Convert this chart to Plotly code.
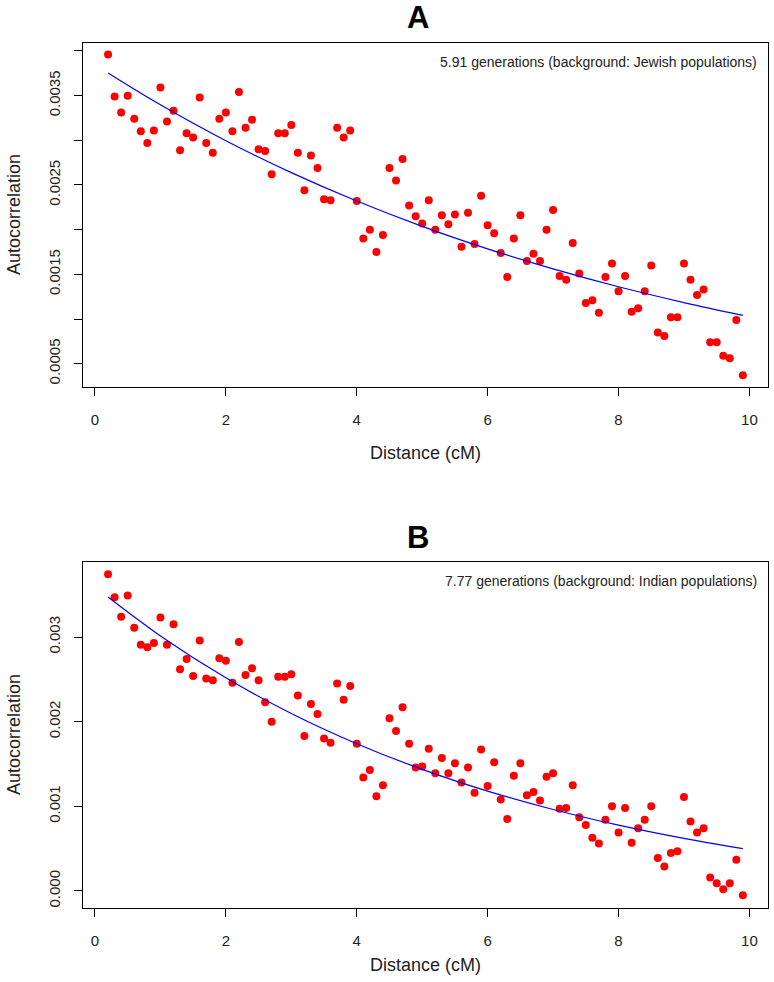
import plotly.graph_objects as go

# distance bins (cM)
distance = [0.2, 0.3, 0.4, 0.5, 0.6, 0.7, 0.8, 0.9, 1.0, 1.1, 1.2, 1.3, 1.4, 1.5, 1.6, 1.7, 1.8, 1.9,
            2.0, 2.1, 2.2, 2.3, 2.4, 2.5, 2.6, 2.7, 2.8, 2.9, 3.0, 3.1, 3.2, 3.3, 3.4, 3.5, 3.6, 3.7,
            3.8, 3.9, 4.0, 4.1, 4.2, 4.3, 4.4, 4.5, 4.6, 4.7, 4.8, 4.9, 5.0, 5.1, 5.2, 5.3, 5.4, 5.5,
            5.6, 5.7, 5.8, 5.9, 6.0, 6.1, 6.2, 6.3, 6.4, 6.5, 6.6, 6.7, 6.8, 6.9, 7.0, 7.1, 7.2, 7.3,
            7.4, 7.5, 7.6, 7.7, 7.8, 7.9, 8.0, 8.1, 8.2, 8.3, 8.4, 8.5, 8.6, 8.7, 8.8, 8.9, 9.0, 9.1,
            9.2, 9.3, 9.4, 9.5, 9.6, 9.7, 9.8, 9.9]

# panel A: Jewish background
autocorr_a = [0.00396, 0.00349, 0.00331, 0.00350, 0.00324, 0.00310, 0.00297, 0.00311, 0.00359, 0.00321,
              0.00333, 0.00289, 0.00308, 0.00303, 0.00348, 0.00297, 0.00286, 0.00324, 0.00331, 0.00310,
              0.00354, 0.00314, 0.00323, 0.00290, 0.00288, 0.00262, 0.00308, 0.00308, 0.00317, 0.00286,
              0.00244, 0.00283, 0.00269, 0.00234, 0.00233, 0.00314, 0.00303, 0.00311, 0.00232, 0.00190,
              0.00200, 0.00175, 0.00194, 0.00269, 0.00255, 0.00279, 0.00227, 0.00215, 0.00207, 0.00233,
              0.00200, 0.00216, 0.00206, 0.00217, 0.00181, 0.00219, 0.00184, 0.00238, 0.00205, 0.00196,
              0.00174, 0.00147, 0.00190, 0.00216, 0.00165, 0.00173, 0.00165, 0.00200, 0.00222, 0.00148,
              0.00144, 0.00185, 0.00151, 0.00118, 0.00121, 0.00107, 0.00147, 0.00162, 0.00131, 0.00148,
              0.00108, 0.00112, 0.00131, 0.00160, 0.00085, 0.00081, 0.00102, 0.00102, 0.00162, 0.00144,
              0.00127, 0.00133, 0.00074, 0.00074, 0.00059, 0.00056, 0.00099, 0.00037]

# panel B: Indian background
autocorr_b = [0.00374, 0.00347, 0.00324, 0.00349, 0.00311, 0.00291, 0.00288, 0.00293, 0.00323, 0.00291,
              0.00315, 0.00262, 0.00274, 0.00254, 0.00296, 0.00251, 0.00249, 0.00275, 0.00272, 0.00246,
              0.00294, 0.00255, 0.00263, 0.00249, 0.00223, 0.00200, 0.00253, 0.00253, 0.00256, 0.00231,
              0.00183, 0.00221, 0.00209, 0.00180, 0.00175, 0.00245, 0.00226, 0.00242, 0.00174, 0.00134,
              0.00143, 0.00112, 0.00125, 0.00204, 0.00189, 0.00217, 0.00174, 0.00146, 0.00147, 0.00168,
              0.00139, 0.00157, 0.00139, 0.00151, 0.00128, 0.00146, 0.00116, 0.00167, 0.00124, 0.00152,
              0.00108, 0.00085, 0.00136, 0.00151, 0.00113, 0.00117, 0.00107, 0.00135, 0.00139, 0.00097,
              0.00098, 0.00125, 0.00087, 0.00078, 0.00063, 0.00056, 0.00084, 0.00100, 0.00069, 0.00098,
              0.00057, 0.00074, 0.00084, 0.00100, 0.00039, 0.00029, 0.00045, 0.00047, 0.00111, 0.00082,
              0.00069, 0.00074, 0.00016, 0.00009, 0.00002, 0.00009, 0.00037, -0.00005]

# fitted curves
fit_x = [0.2, 1, 2, 3, 4, 5, 6, 7, 8, 9, 9.9]
fit_a = [0.003754, 0.003398, 0.002996, 0.002638, 0.002320, 0.002037, 0.001785, 0.001561, 0.001361, 0.001184, 0.001041]
fit_b = [0.003472, 0.003013, 0.002518, 0.002097, 0.001740, 0.001437, 0.001180, 0.000963, 0.000778, 0.000621, 0.000500]

labels = ["A", "B"]
notes = ["5.91 generations (background: Jewish populations)",
         "7.77 generations (background: Indian populations)"]

x_ticks = [0, 2, 4, 6, 8, 10]
ytick_a = [0.0005, 0.001, 0.0015, 0.002, 0.0025, 0.003, 0.0035, 0.004]
ytext_a = ["0.0005", "", "0.0015", "", "0.0025", "", "0.0035", ""]
ytick_b = [0.000, 0.001, 0.002, 0.003]
ytext_b = ["0.000", "0.001", "0.002", "0.003"]

FONT = "Liberation Sans"
W, H = 774, 982


def px(x):
    return x / W


def py(y):
    return 1 - y / H


fig = go.Figure()
for i, (pts, fit) in enumerate([(autocorr_a, fit_a), (autocorr_b, fit_b)]):
    xa = "x" if i == 0 else "x2"
    ya = "y" if i == 0 else "y2"
    fig.add_trace(go.Scatter(x=distance, y=pts, mode="markers", xaxis=xa, yaxis=ya,
                             marker=dict(color="#ff0000", size=8), showlegend=False))
    fig.add_trace(go.Scatter(x=fit_x, y=fit, mode="lines", xaxis=xa, yaxis=ya, line_shape="spline",
                             line=dict(color="#0000ff", width=1.2), showlegend=False))

xdom = [px(83), px(768)]
common_x = dict(range=[-0.183, 10.284], tickvals=x_ticks, ticks="outside", ticklen=8, tickwidth=1,
                tickcolor="black", showline=True, mirror=True, linecolor="black", linewidth=1.3,
                showgrid=False, zeroline=False, tickfont=dict(size=15, color="#222"),
                ticklabelstandoff=11, domain=xdom, automargin=False)
common_y = dict(ticks="outside", ticklen=8, tickwidth=1, tickcolor="black", showline=True, mirror=True,
                linecolor="black", linewidth=1.3, showgrid=False, zeroline=False, tickangle=-90,
                tickfont=dict(size=15, color="#222"), ticklabelstandoff=8, automargin=False)

fig.update_layout(
    width=W, height=H, margin=dict(l=0, r=0, t=0, b=0),
    paper_bgcolor="white", plot_bgcolor="white",
    font=dict(family=FONT, color="#222"),
    xaxis=dict(common_x, anchor="y"),
    yaxis=dict(common_y, range=[0.000239, 0.004089], tickvals=ytick_a, ticktext=ytext_a,
               domain=[py(387), py(43)], anchor="x"),
    xaxis2=dict(common_x, anchor="y2"),
    yaxis2=dict(common_y, range=[-0.000201, 0.003886], tickvals=ytick_b, ticktext=ytext_b,
                domain=[py(908), py(562)], anchor="x2"),
)

cx = px((83 + 768) / 2)
for i in range(2):
    top = 43 if i == 0 else 562
    bottom = 387 if i == 0 else 908
    fig.add_annotation(text="<b>" + labels[i] + "</b>", x=px(418), y=py(top - 25), xref="paper", yref="paper",
                       showarrow=False, font=dict(size=31, color="black"), xanchor="center", yanchor="middle")
    fig.add_annotation(text=notes[i], x=px(759), y=py(top + 19), xref="paper", yref="paper",
                       showarrow=False, font=dict(size=14, color="#222"), xanchor="right", yanchor="middle")
    fig.add_annotation(text="Distance (cM)", x=cx, y=py(bottom + 66 if i == 0 else bottom + 57),
                       xref="paper", yref="paper", showarrow=False, font=dict(size=18, color="#222"),
                       xanchor="center", yanchor="middle")
    fig.add_annotation(text="Autocorrelation", x=px(14), y=py((top + bottom) / 2), xref="paper",
                       yref="paper", showarrow=False, textangle=-90, font=dict(size=18, color="#222"),
                       xanchor="center", yanchor="middle")

# drop the page's default body margin so the figure fills the window
fig.write_html("out.html", config={"displayModeBar": False},
               post_script="document.body.style.margin='0';")
